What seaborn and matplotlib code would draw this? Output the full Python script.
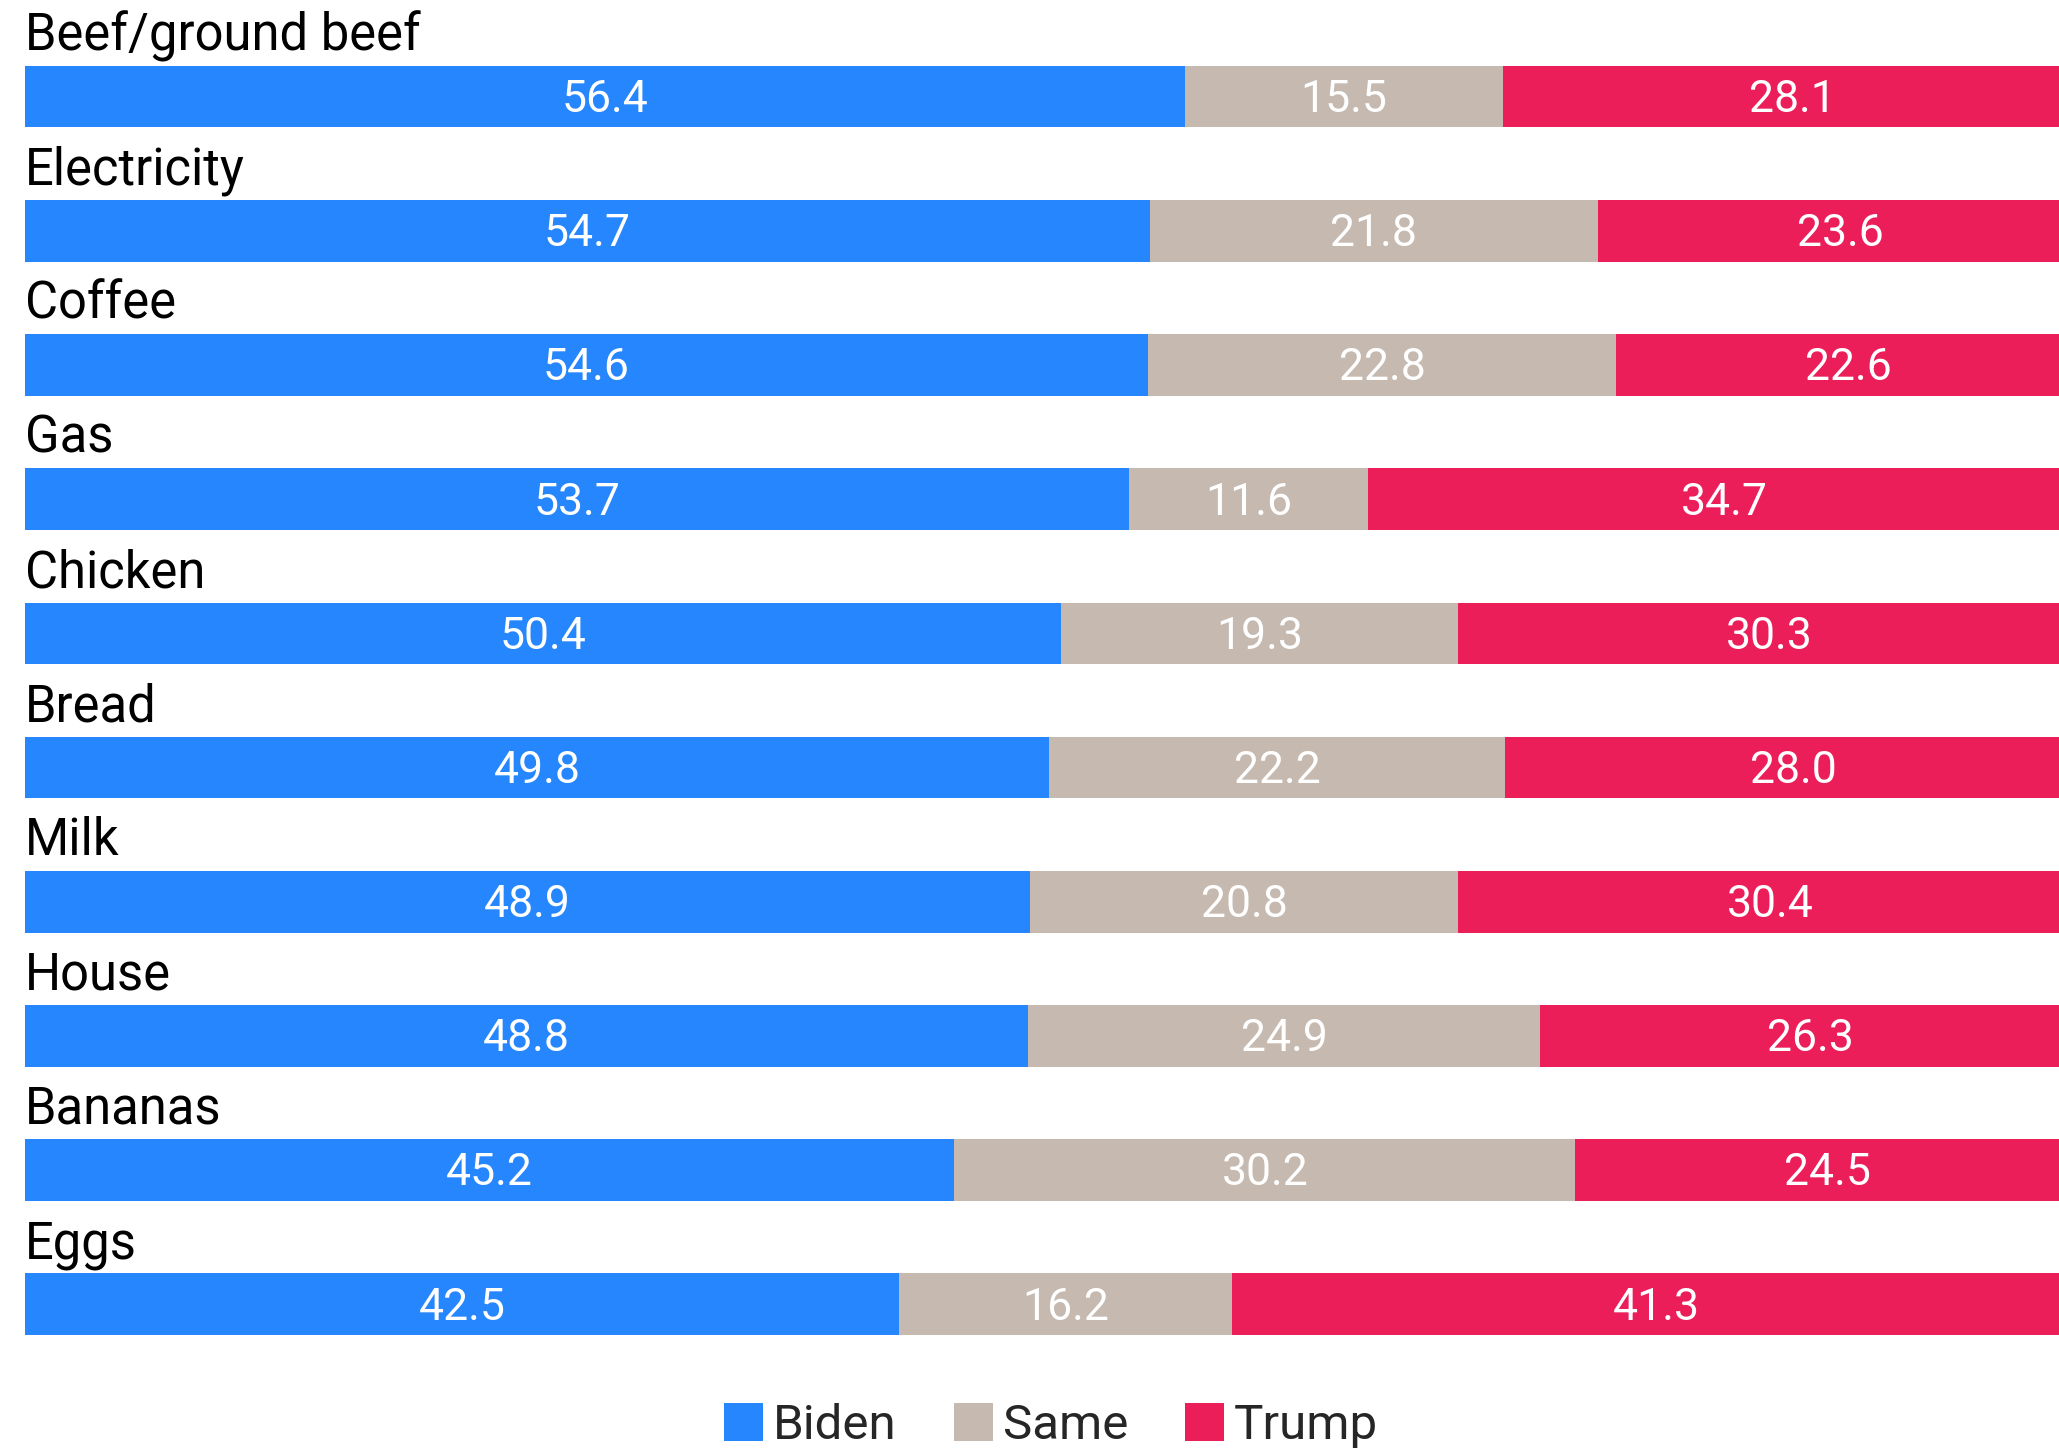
import matplotlib
matplotlib.use("Agg")
import matplotlib.pyplot as plt
import seaborn as sns
import pandas as pd
import numpy as np
from matplotlib.patches import Patch

categories = ["Beef/ground beef", "Electricity", "Coffee", "Gas", "Chicken",
              "Bread", "Milk", "House", "Bananas", "Eggs"]
biden = [56.4, 54.7, 54.6, 53.7, 50.4, 49.8, 48.9, 48.8, 45.2, 42.5]
same = [15.5, 21.8, 22.8, 11.6, 19.3, 22.2, 20.8, 24.9, 30.2, 16.2]
trump = [28.1, 23.6, 22.6, 34.7, 30.3, 28.0, 30.4, 26.3, 24.5, 41.3]
series_names = ["Biden", "Same", "Trump"]
colors = ["#2686FE", "#C5B9B0", "#EC1E5A"]

sns.set_theme(style="white")
plt.rcParams["font.family"] = ["Roboto", "DejaVu Sans"]

df = pd.DataFrame({"cat": categories, "Biden": biden, "Same": same, "Trump": trump})
df["c1"] = df["Biden"]
df["c2"] = df["Biden"] + df["Same"]
df["c3"] = df["Biden"] + df["Same"] + df["Trump"]

W, H = 2059, 1448
fig = plt.figure(figsize=(W / 100, H / 100), dpi=100)
# the chart is cropped on the right in the reference: 100 % lies beyond the edge
ax = fig.add_axes([25 / W, 1 - 1371.4 / H, 2056 / W, 1371.4 / H])

for col, c in zip(["c3", "c2", "c1"], colors[::-1]):
    sns.barplot(data=df, x=col, y="cat", order=categories, orient="h",
                color=c, saturation=1, width=0.46, linewidth=0, ax=ax)

ax.set_xlim(0, 100)
ax.set_ylim(9.5, -0.72)
ax.axis("off")

for i, cat in enumerate(categories):
    ax.text(0, i - 0.345, cat, fontsize=36.5, color="black", va="baseline", ha="left")
    lefts = [0, biden[i], biden[i] + same[i]]
    vals = [biden[i], same[i], trump[i]]
    for l, v in zip(lefts, vals):
        ax.text(l + v / 2, i + 0.025, f"{v:.1f}", fontsize=32, color="white",
                ha="center", va="center")

handles = [Patch(facecolor=c, edgecolor="none") for c in colors]
fig.legend(handles, series_names, loc="center", bbox_to_anchor=(0.5105, 0.015),
           ncol=3, frameon=False, fontsize=35.5, handlelength=0.8, handleheight=0.8,
           handletextpad=0.2, columnspacing=1.15, borderaxespad=0)

fig.savefig("out.png", dpi=100, facecolor="white")
